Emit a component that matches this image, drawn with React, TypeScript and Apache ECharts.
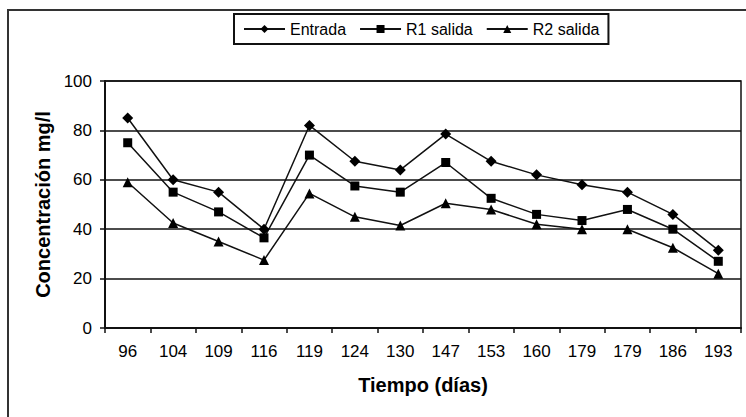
import React, { useEffect, useRef } from "react";
import * as echarts from "echarts";

const categories = ["96", "104", "109", "116", "119", "124", "130", "147", "153", "160", "179", "179", "186", "193"];
const entrada = [85, 60, 55, 40, 82, 67.5, 64, 78.5, 67.5, 62, 58, 55, 46, 31.5];
const r1Salida = [75, 55, 47, 36.5, 70, 57.5, 55, 67, 52.5, 46, 43.5, 48, 40, 27];
const r2Salida = [59, 42.5, 35, 27.5, 54.5, 45, 41.5, 50.5, 48, 42, 40, 40, 32.5, 22];
const seriesNames = ["Entrada", "R1 salida", "R2 salida"];
const yTicks = { min: 0, max: 100, interval: 20 };

const FONT = "'Liberation Sans', Arial, sans-serif";

export default function App() {
  const ref = useRef<HTMLDivElement>(null);
  useEffect(() => {
    if (!ref.current) return;
    const chart = echarts.init(ref.current, null, { renderer: "svg" });
    const mk = (name: string, data: number[], symbol: string, size: number) => ({
      name,
      type: "line",
      data,
      symbol,
      symbolSize: size,
      lineStyle: { color: "#111", width: 1.5 },
      itemStyle: { color: "#000" },
      emphasis: { disabled: true },
    });
    chart.setOption({
      animation: false,
      backgroundColor: "#fff",
      textStyle: { fontFamily: FONT },
      graphic: [
        {
          type: "rect",
          shape: { x: 8, y: 10, width: 800, height: 500 },
          style: { fill: "none", stroke: "#333", lineWidth: 2 },
          silent: true,
          z: -10,
        },
      ],
      legend: {
        left: 234,
        top: 14,
        padding: [7, 9],
        itemGap: 13,
        itemWidth: 41,
        itemHeight: 10,
        borderColor: "#111",
        borderWidth: 2,
        backgroundColor: "#fff",
        textStyle: { fontFamily: FONT, fontSize: 16, color: "#000" },
        data: seriesNames,
        selectedMode: false,
      },
      grid: {
        left: 105,
        right: 5,
        top: 81,
        bottom: 89,
        show: true,
        borderColor: "#111",
        borderWidth: 1.5,
        backgroundColor: "transparent",
      },
      xAxis: {
        type: "category",
        data: categories,
        boundaryGap: true,
        name: "Tiempo (días)",
        nameLocation: "middle",
        nameGap: 47,
        nameTextStyle: { fontFamily: FONT, fontSize: 20, fontWeight: "bold", color: "#000" },
        axisLine: { lineStyle: { color: "#111", width: 2 } },
        axisTick: { show: true, alignWithLabel: false, length: 5, lineStyle: { color: "#111", width: 1.5 } },
        axisLabel: { fontFamily: FONT, fontSize: 17, color: "#000", margin: 15, interval: 0 },
        splitLine: { show: false },
      },
      yAxis: {
        type: "value",
        min: yTicks.min,
        max: yTicks.max,
        interval: yTicks.interval,
        name: "Concentración mg/l",
        nameLocation: "middle",
        nameGap: 52,
        nameTextStyle: { fontFamily: FONT, fontSize: 20, fontWeight: "bold", color: "#000" },
        axisLine: { show: true, lineStyle: { color: "#111", width: 2 } },
        axisTick: { show: true, length: 5, lineStyle: { color: "#111", width: 1.5 } },
        axisLabel: { fontFamily: FONT, fontSize: 17, color: "#000", margin: 13 },
        splitLine: { show: true, lineStyle: { color: "#111", width: 1.5 } },
      },
      series: [
        mk(seriesNames[0], entrada, "diamond", 11),
        mk(seriesNames[1], r1Salida, "rect", 9),
        mk(seriesNames[2], r2Salida, "triangle", 10),
      ],
    });
    return () => chart.dispose();
  }, []);
  return (
    <div
      ref={ref}
      style={{ position: "fixed", left: 0, top: 0, width: 746, height: 417 }}
    />
  );
}
